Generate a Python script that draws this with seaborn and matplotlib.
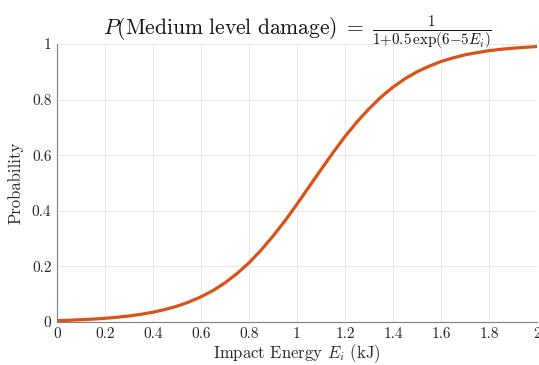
import matplotlib
matplotlib.use("Agg")
import matplotlib.pyplot as plt
import seaborn as sns
import pandas as pd

energy = [0.0, 0.05, 0.1, 0.15, 0.2, 0.25, 0.3, 0.35, 0.4, 0.45, 0.5,
          0.55, 0.6, 0.65, 0.7, 0.75, 0.8, 0.85, 0.9, 0.95, 1.0,
          1.05, 1.1, 1.15, 1.2, 1.25, 1.3, 1.35, 1.4, 1.45, 1.5,
          1.55, 1.6, 1.65, 1.7, 1.75, 1.8, 1.85, 1.9, 1.95, 2.0]
probability = [0.0049, 0.0063, 0.0081, 0.0104, 0.0133, 0.0170, 0.0217, 0.0278,
               0.0353, 0.0449, 0.0569, 0.0720, 0.0906, 0.113, 0.141, 0.174,
               0.213, 0.258, 0.309, 0.364, 0.424, 0.486, 0.548, 0.609,
               0.667, 0.720, 0.767, 0.809, 0.845, 0.875, 0.900, 0.920,
               0.937, 0.950, 0.961, 0.969, 0.976, 0.981, 0.985, 0.988, 0.991]
xticks = [0, 0.2, 0.4, 0.6, 0.8, 1, 1.2, 1.4, 1.6, 1.8, 2]
xticklabels = ["0", "0.2", "0.4", "0.6", "0.8", "1", "1.2", "1.4", "1.6", "1.8", "2"]
yticks = [0, 0.2, 0.4, 0.6, 0.8, 1]
yticklabels = ["0", "0.2", "0.4", "0.6", "0.8", "1"]

sns.set_theme(style="white")
plt.rcParams["font.family"] = ["cmr10", "DejaVu Serif"]
plt.rcParams["mathtext.fontset"] = "cm"
plt.rcParams["axes.formatter.use_mathtext"] = True

df = pd.DataFrame({"E": energy, "P": probability})

fig = plt.figure(figsize=(5.39, 3.65), dpi=100)
ax = fig.add_axes([57 / 539, 1 - 322 / 365, (537 - 57) / 539, (322 - 44) / 365])
sns.lineplot(data=df, x="E", y="P", ax=ax, color="#D95319", linewidth=2.3)

ax.set_xlim(0, 2)
ax.set_ylim(0, 1)
ax.set_xticks(xticks)
ax.set_xticklabels(xticklabels)
ax.set_yticks(yticks)
ax.set_yticklabels(yticklabels)
ax.grid(True, color="#e6e6e6", linewidth=0.6)
ax.set_axisbelow(True)
for s in ["top", "right"]:
    ax.spines[s].set_visible(False)
for s in ["left", "bottom"]:
    ax.spines[s].set_color("#7f7f7f")
    ax.spines[s].set_linewidth(0.8)
ax.tick_params(direction="in", length=3, width=0.6, color="#7f7f7f",
               labelsize=11, labelcolor="#262626", pad=4)
ax.set_xlabel(r"Impact Energy $E_i$ (kJ)", fontsize=12, color="#262626", labelpad=1)
ax.set_ylabel("Probability", fontsize=12, color="#262626", labelpad=6)
ax.set_title(r"$P(\mathrm{Medium\ level\ damage})\;=\;\frac{1}{1{+}0.5\,\exp(6{-}5E_i)}$",
             fontsize=15.5, color="#111111", pad=7)

fig.savefig("out.png", dpi=100)
